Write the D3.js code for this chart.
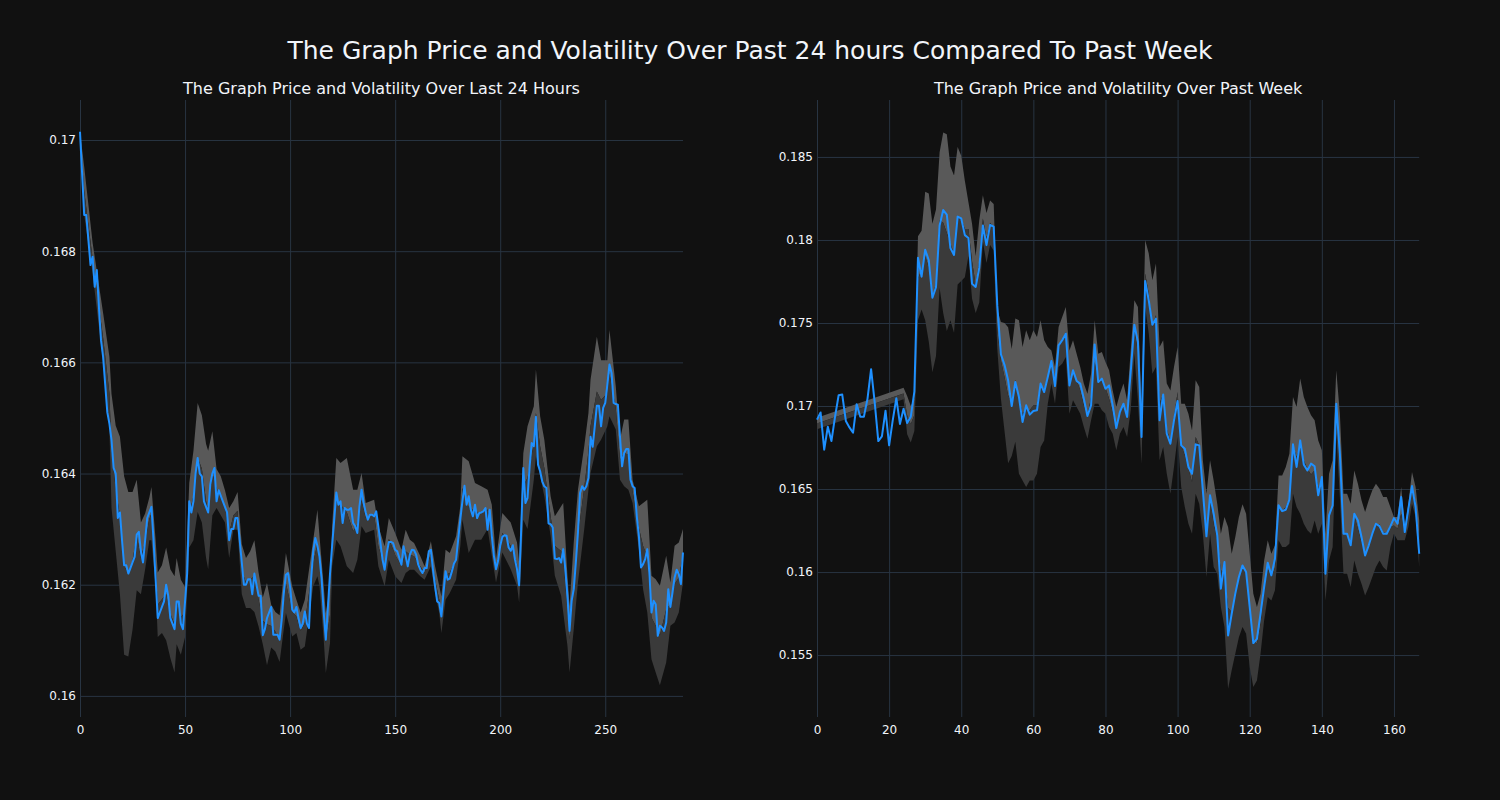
<!DOCTYPE html>
<html><head><meta charset="utf-8">
<script src="https://cdn.jsdelivr.net/npm/d3@7"></script>
<style>body{margin:0;background:#111111;} svg{display:block}</style>
</head><body>
<svg id="chart" width="1500" height="800"></svg>
<script>
// ---------- Data: last 24 hours (index 0..287) ----------
const dayPrice = [
.17015,.1694,.16865,.16865,.1682,.16775,.1679,.16736,.16766,.1670,
.1664,.1661,.1656,.1651,.1649,.1646,.1641,.1640,.1632,.1633,
.1628,.16235,.16235,.1622,.1623,.1624,.1625,.1629,.16295,.1626,
.1624,.1628,.1632,.1633,.1634,.1628,.1621,.1614,.1615,.1616,
.1617,.1620,.1618,.1614,.1613,.1612,.1617,.1617,.1613,.1612,
.1617,.1622,.1635,.1633,.1635,.1640,.16428,.1640,.16395,.1635,
.1634,.1633,.1638,.1640,.1641,.1635,.1637,.1636,.1635,.1634,
.1633,.1628,.1630,.1630,.1632,.1632,.1628,.1624,.1620,.1620,
.1621,.1621,.16183,.1622,.1620,.1618,.1618,.16109,.1612,.1614,
.1615,.1616,.1611,.1611,.1611,.16101,.16137,.16185,.16218,.16221,
.16197,.16155,.1615,.1616,.1614,.16122,.1613,.16152,.1613,.16122,
.1621,.1626,.16284,.1627,.1625,.1621,.1615,.16101,.1616,.1622,
.1627,.16317,.16366,.16344,.1635,.16311,.16338,.16335,.16335,.16338,
.16311,.16305,.16293,.16341,.16371,.16347,.1633,.16317,.16326,.16326,
.16323,.16332,.16305,.16275,.16245,.16227,.16257,.16277,.16277,.16275,
.16263,.1626,.16248,.16236,.16269,.16251,.16233,.16254,.16263,.16262,
.16254,.16236,.16227,.16221,.1623,.1623,.1626,.16263,.16227,.16197,
.1617,.16167,.16143,.16185,.16224,.16209,.16211,.16224,.16238,.16245,
.16281,.16317,.1635,.16378,.16344,.16359,.16335,.16323,.16344,.1632,
.16329,.1633,.16332,.16338,.16299,.16335,.16288,.16252,.16228,.16243,
.1627,.16286,.16289,.16288,.16267,.16261,.16271,.16246,.16228,.16199,
.163,.1641,.16347,.16356,.16413,.16455,.16449,.16502,.16416,.16404,
.16386,.16377,.16374,.1631,.16309,.16303,.16247,.16246,.16248,.1624,
.16264,.16228,.1618,.16117,.16171,.16192,.1624,.16294,.16365,.16377,
.16371,.16377,.16392,.16466,.16448,.16485,.16522,.16522,.16485,.16518,
.16527,.1656,.16596,.16581,.16527,.16525,.16524,.16467,.16413,.16437,
.16444,.16444,.16389,.16377,.16374,.16323,.16288,.16231,.16237,.16246,
.16264,.16222,.1615,.16171,.16165,.16108,.16126,.16123,.16117,.16132,
.16192,.1616,.16186,.16213,.16227,.16219,.16201,.16258
];
const dayBandX = [0,2,6,11,14,15,17,19,21,23,25,27,29,31,33,34,36,37,39,41,43,45,46,48,50,52,54,56,58,60,61,63,65,67,69,71,73,75,77,79,81,83,85,87,89,91,93,95,
98,101,103,105,107,111,113,114,116,117,119,120,122,124,127,130,132,134,136,140,142,145,147,150,153,155,157,159,162,164,167,169,171,172,174,176,179,181,182,185,188,191,194,
196,198,201,205,208,209,211,213,216,217,219,221,224,226,229,230,232,233,235,237,240,242,243,246,248,251,252,255,257,259,261,263,266,268,270,272,274,276,279,281,283,285,287];
const dayBandUpper = [
.17015,.16952,.16815,.16689,.1661,.16543,.16486,.16466,.16395,.16367,.16367,.16389,.16312,.16328,.16357,.16376,.1628,.16222,.16235,.16267,
.16228,.16215,.16248,.16209,.16196,.16383,.16441,.16527,.16505,.16453,.16441,.16476,.16408,.16395,.1637,.16338,.1635,.16367,.16273,.16248,
.1626,.1628,.16222,.16177,.16203,.16164,.16151,.16145,
.16257,.16197,.16173,.1615,.16173,.16281,.16335,.16287,.16197,.16149,.16197,.16305,.16428,.16419,.16428,.16371,.16371,.16401,.16347,.16353,
.16305,.16269,.1632,.16293,.16263,.16299,.16281,.16275,.16251,.16233,.16278,.16233,.16197,.16179,.16263,.16257,.16287,.16341,.16431,.16422,
.16383,.16377,.16371,
.16344,.16246,.16329,.16312,.16276,.1624,.16437,.16485,.16521,.16587,.16503,.16461,.16359,.16323,.16341,.16347,.16216,.16162,.16276,.16371,
.16449,.16509,.16569,.16646,.16604,.16604,.16658,.16557,.16461,.16497,.16497,.16389,.16341,.16347,.16353,.16216,.1621,.16198,.16252,.16204,
.1627,.16276,.163
];
const dayBandLower = [
.17015,.16865,.1676,.1660,.1648,.16338,.1626,.16183,.16074,.16071,.16119,.1619,.16183,.16228,.1628,.1628,.16196,.16106,.16113,.161,
.16068,.16042,.16093,.16074,.16106,.16267,.1628,.16331,.16312,.16248,.16228,.16325,.16338,.16325,.16312,.16248,.16299,.16299,.16183,.16158,
.16158,.16151,.16125,.16093,.16055,.16087,.1608,.16061,
.16149,.16107,.16113,.16083,.16089,.16197,.16215,.16197,.16101,.16041,.16095,.16233,.16281,.16269,.16233,.16221,.16245,.16305,.16293,.16299,
.16233,.16197,.16245,.16215,.16203,.16221,.16227,.16227,.16215,.16209,.16233,.16185,.16149,.16113,.16173,.16185,.16209,.16269,.16317,.16257,
.16281,.16281,.163,
.16252,.16204,.16258,.16228,.16198,.16168,.16317,.163,.16389,.16431,.16395,.16359,.16288,.16216,.1618,.1615,.1609,.16042,.1612,.16204,
.163,.16371,.16401,.16449,.16461,.16485,.16503,.16479,.16389,.16377,.16371,.16347,.16264,.16192,.1615,.16066,.16042,.16019,.1606,.16126,
.16132,.1615,.16204
];

// ---------- Data: past week (index 0..167) ----------
const weekPrice = [
.16918,.16961,.16737,.16875,.16789,.16935,.17065,.17069,.1691,.16871,
.16839,.17011,.16935,.16935,.17043,.17222,.17022,.16789,.16817,.16972,
.16763,.16914,.17047,.16892,.16983,.16897,.16935,.17086,.17893,.17779,
.17941,.17878,.17652,.17715,.18087,.1818,.18152,.17951,.1791,.18141,
.1813,.18029,.18012,.17736,.17717,.17833,.18087,.17969,.18091,.1808,
.17603,.17312,.17248,.17155,.17,.17145,.17054,.16904,.17004,.16948,
.1697,.16974,.17135,.17084,.17175,.17271,.1712,.17365,.17396,.17436,
.17124,.17215,.17151,.17135,.17044,.1694,.17004,.17371,.17145,.17165,
.17104,.17124,.17004,.16867,.16964,.17014,.16934,.17205,.1749,.17386,
.16813,.17753,.17637,.1749,.17526,.16914,.1707,.16833,.16773,.16914,
.1703,.16763,.16743,.16633,.16592,.16769,.16763,.16492,.16215,.16462,
.16351,.16221,.159,.1606,.15618,.15749,.1587,.1597,.1604,.16,
.15789,.15572,.15598,.15749,.1591,.16056,.1598,.1608,.16402,.16367,
.16375,.16436,.16769,.16633,.16793,.16647,.16612,.16653,.16637,.16462,
.16572,.1599,.16341,.16402,.17014,.16713,.16231,.16231,.16161,.16351,
.1631,.16211,.161,.16161,.16231,.16291,.16277,.16231,.16231,.16275,
.16325,.16291,.16452,.16241,.16382,.16518,.16392,.1611
];
const weekBandX = [0,24,25,26,27,28,29,30,31,32,33,34,35,36,37,38,39,40,41,42,43,44,45,46,47,48,49,
50,51,52,53,54,55,56,57,58,59,60,61,62,63,64,65,66,67,68,69,70,71,72,73,74,75,76,77,78,79,
80,81,82,83,84,85,86,87,88,89,90,91,92,93,94,95,96,97,98,99,100,101,102,103,104,105,106,107,108,109,
110,111,112,113,114,115,116,117,118,119,120,121,122,123,124,125,126,127,128,129,130,131,132,133,134,135,136,137,138,139,
140,141,142,143,144,145,146,147,148,149,150,151,152,153,154,155,156,157,158,159,160,161,162,163,164,165,166,167];
const weekBandUpper = [
.1693,.1711,.1706,.1700,.17043,
.18022,.18055,.18291,.1828,.18098,.18184,.18528,.18647,.18636,.18442,.18388,.1856,.18507,.18356,.18227,.18098,.17904,.18119,.1827,.18162,.18238,.18216,
.17581,.17506,.175,.17474,.17344,.17527,.17516,.17355,.17456,.17396,.17456,.17416,.17516,.17396,.17355,.17335,.17235,.17476,.17536,.17596,
.17335,.17396,.17315,.17235,.17135,.17074,.17195,.17516,.17315,.17325,
.17265,.17215,.17094,.16994,.17074,.17135,.17034,.17335,.17637,.17596,.16994,.18,.17918,.17757,.17859,.17355,.17396,.17135,.17094,.17235,
.17355,.17014,.17014,.16954,.16853,.17155,.17114,.16673,.16472,.16673,
.16552,.16412,.16231,.16331,.16271,.1611,.16211,.16331,.16408,.16351,.1611,.1587,.15789,.1587,.1607,.16191,.1611,.16161,.16582,.16582,
.16633,.16713,.17054,.16994,.17165,.17054,.16994,.16944,.16914,.16793,
.16733,.16231,.16592,.16673,.17215,.16954,.16472,.16472,.16412,.16612,.16532,.16432,.16361,.16432,.16492,.16532,.16502,.16452,.16452,.16392,
.16331,.16331,.16512,.16271,.16412,.16602,.16512,.16311
];
const weekBandLower = [
.1686,.1704,.1683,.1678,.1685,
.17517,.17581,.17517,.17387,.17204,.17301,.1771,.1756,.17452,.17517,.17441,.17732,.17753,.17775,.17904,.17646,.1756,.17624,.1799,.17861,.17969,.17936,
.17344,.17043,.16849,.16656,.16699,.16785,.16592,.16552,.16512,.16552,.16552,.16592,.16753,.16793,.17014,.17135,.17014,.17235,.17255,.17295,
.16954,.17034,.16994,.16954,.16873,.16803,.16914,.17014,.17014,.16974,
.16954,.16873,.16833,.16733,.16833,.16873,.16813,.16974,.17315,.17034,.16653,.17596,.17436,.17195,.17235,.16673,.16753,.16592,.16472,.16633,
.16813,.16512,.16392,.16291,.16231,.16472,.16412,.16231,.1597,.16231,
.1603,.1599,.15789,.15669,.15297,.15408,.15508,.15608,.15669,.15629,.15428,.15307,.15347,.15508,.15709,.15849,.15829,.1589,.16191,.16151,
.16151,.16171,.16472,.16392,.16351,.16291,.16251,.16231,.16311,.16231,
.16291,.15829,.1607,.16151,.16833,.16452,.1599,.1599,.1591,.1607,.1599,.1593,.15859,.1591,.1597,.1603,.1607,.1603,.1601,.16151,
.16231,.16191,.16191,.16191,.16271,.16412,.16331,.1603
];

// ---------- Ticks / labels ----------
const dayXTicks = [0,50,100,150,200,250];
const dayYTicks = [0.16,0.162,0.164,0.166,0.168,0.17];
const dayYLabels = ["0.16","0.162","0.164","0.166","0.168","0.17"];
const weekXTicks = [0,20,40,60,80,100,120,140,160];
const weekYTicks = [0.155,0.16,0.165,0.17,0.175,0.18,0.185];
const weekYLabels = ["0.155","0.16","0.165","0.17","0.175","0.18","0.185"];
const mainTitle = "The Graph Price and Volatility Over Past 24 hours Compared To Past Week";
const dayTitle = "The Graph Price and Volatility Over Last 24 Hours";
const weekTitle = "The Graph Price and Volatility Over Past Week";

// ---------- Drawing ----------
const svg = d3.select("#chart");
const FONT = "'DejaVu Sans', Verdana, sans-serif";
const TEXT = "#f2f5fa", GRID = "#283442";
svg.append("rect").attr("width",1500).attr("height",800).attr("fill","#111111");

svg.append("text").attr("x",750).attr("y",59).attr("text-anchor","middle")
  .attr("font-family",FONT).attr("font-size",25).attr("fill",TEXT).text(mainTitle);

function panel(o){
  const g = svg.append("g");
  const x = d3.scaleLinear().domain(o.xDomain).range([o.left, o.right]);
  const y = d3.scaleLinear().domain(o.yDomain).range([o.bottom, o.top]);
  const gx = g.append("g").attr("transform",`translate(0,${o.bottom})`)
    .call(d3.axisBottom(x).tickValues(o.xTicks).tickSize(-(o.bottom-o.top)).tickPadding(8).tickFormat(d3.format("d")));
  const gy = g.append("g").attr("transform",`translate(${o.left},0)`)
    .call(d3.axisLeft(y).tickValues(o.yTicks).tickSize(-(o.right-o.left)).tickPadding(4)
      .tickFormat((d,i)=>o.yLabels[i]));
  [gx,gy].forEach(a=>{
    a.select(".domain").remove();
    a.selectAll("line").attr("stroke",GRID).attr("stroke-width",1);
    a.selectAll("text").attr("fill",TEXT).attr("font-family",FONT).attr("font-size",12);
  });
  gx.selectAll(".tick text").attr("dy","0.71em");
  const band = o.bandX.map((xi,i)=>({x:xi,u:o.upper[i],l:o.lower[i],m:(o.upper[i]+o.lower[i])/2}));
  g.append("path").datum(band).attr("fill","#595959")
    .attr("d", d3.area().x(d=>x(d.x)).y0(d=>y(d.m)).y1(d=>y(d.u)));
  g.append("path").datum(band).attr("fill","#3a3a3a")
    .attr("d", d3.area().x(d=>x(d.x)).y0(d=>y(d.l)).y1(d=>y(d.m)));
  g.append("path").datum(o.price).attr("fill","none").attr("stroke","#1e90ff")
    .attr("stroke-width",2).attr("stroke-linejoin","round")
    .attr("d", d3.line().x((d,i)=>x(i)).y(d=>y(d)));
  svg.append("text").attr("x",(o.left+o.right)/2).attr("y",94).attr("text-anchor","middle")
    .attr("font-family",FONT).attr("font-size",16).attr("fill",TEXT).text(o.title);
}

panel({left:80,right:683,top:100,bottom:717,xDomain:[0,287],yDomain:[0.15962,0.17072],
  xTicks:dayXTicks,yTicks:dayYTicks,yLabels:dayYLabels,price:dayPrice,
  bandX:dayBandX,upper:dayBandUpper,lower:dayBandLower,title:dayTitle});
panel({left:817,right:1419.2,top:100,bottom:717,xDomain:[0,167],yDomain:[0.15127,0.18843],
  xTicks:weekXTicks,yTicks:weekYTicks,yLabels:weekYLabels,price:weekPrice,
  bandX:weekBandX,upper:weekBandUpper,lower:weekBandLower,title:weekTitle});
</script>
</body></html>
